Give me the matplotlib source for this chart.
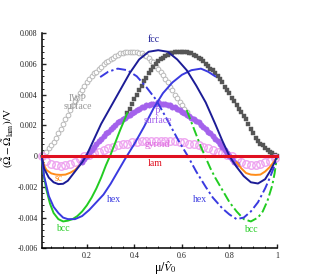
import matplotlib
matplotlib.use('Agg')
import matplotlib.pyplot as plt
from matplotlib.ticker import MultipleLocator, FixedLocator, FixedFormatter

plt.rcParams['font.family'] = ['Liberation Serif', 'DejaVu Serif']
plt.rcParams['mathtext.fontset'] = 'stix'
plt.rcParams['axes.unicode_minus'] = False

# ---------------- data ----------------
lam_x = [0.01, 1.0]
lam_y = [0.0, 0.0]

fcc_x = [0.01, 0.02, 0.04, 0.06, 0.08, 0.10, 0.12, 0.14, 0.16, 0.18, 0.20, 0.23, 0.26, 0.30,
         0.34, 0.38, 0.42, 0.46, 0.50, 0.54, 0.58, 0.62, 0.66, 0.70, 0.74, 0.77, 0.80, 0.83,
         0.86, 0.89, 0.92, 0.95, 0.97, 0.99, 1.0]
fcc_y = [0.0, -0.0008, -0.0014, -0.0017, -0.00182, -0.0018, -0.0016, -0.0012, -0.0008, -0.0004,
         0.0001, 0.0011, 0.0021, 0.0032, 0.0043, 0.0054, 0.0063, 0.0068, 0.0069, 0.0068, 0.0063,
         0.0056, 0.0046, 0.0035, 0.0021, 0.0010, 0.0, -0.0007, -0.0013, -0.0017, -0.00178,
         -0.0015, -0.0010, -0.0004, 0.0]

bcc_x = [0.01, 0.02, 0.03, 0.045, 0.06, 0.08, 0.10, 0.12, 0.14, 0.16, 0.18, 0.20, 0.22, 0.24,
         0.26, 0.28, 0.30, 0.32, 0.34, 0.37]
bcc_y = [0.0, -0.0014, -0.0022, -0.0031, -0.0037, -0.0041, -0.00425, -0.0042, -0.0041, -0.0039,
         -0.0036, -0.0032, -0.0027, -0.0021, -0.0014, -0.0006, 0.0001, 0.0009, 0.0017, 0.0028]

bcc_inv_x = [0.62, 0.64, 0.66, 0.68, 0.70, 0.72, 0.74, 0.77, 0.80, 0.83, 0.86, 0.89, 0.92, 0.94,
             0.96, 0.98, 0.99, 1.0]
bcc_inv_y = [0.0030, 0.0022, 0.0014, 0.0006, -0.0001, -0.0008, -0.0014, -0.0022, -0.0030, -0.0036,
             -0.0041, -0.00425, -0.0040, -0.0036, -0.0029, -0.0019, -0.0011, 0.0]

hex_x = [0.01, 0.02, 0.04, 0.06, 0.08, 0.10, 0.12, 0.15, 0.18, 0.21, 0.24, 0.27, 0.30, 0.33,
         0.36, 0.40, 0.44, 0.48, 0.52, 0.56, 0.60, 0.64, 0.68, 0.71, 0.74]
hex_y = [0.0, -0.0013, -0.0026, -0.0033, -0.0037, -0.0040, -0.0041, -0.0041, -0.0039, -0.0035,
         -0.0030, -0.0025, -0.0018, -0.0010, -0.0002, 0.0008, 0.0019, 0.0031, 0.0041, 0.0048,
         0.0053, 0.0056, 0.0057, 0.0055, 0.0052]

hex_inv_x = [0.256, 0.29, 0.33, 0.37, 0.41, 0.45, 0.49, 0.53, 0.586, 0.625, 0.66, 0.70, 0.73,
             0.77, 0.80, 0.83, 0.86, 0.89, 0.92, 0.95, 0.97, 0.99, 1.0]
hex_inv_y = [0.00515, 0.0055, 0.0057, 0.0056, 0.0052, 0.0045, 0.0037, 0.0026, 0.0010, 0.0,
             -0.0010, -0.0020, -0.0027, -0.0034, -0.0038, -0.0041, -0.0040, -0.0036, -0.0030,
             -0.0021, -0.0014, -0.0006, 0.0]

sc_x = [0.01, 0.02, 0.03, 0.05, 0.07, 0.09, 0.11, 0.13, 0.15, 0.17]
sc_y = [0.0, -0.0006, -0.0009, -0.00112, -0.0012, -0.00122, -0.0012, -0.00108, -0.0009, -0.0006]
sc_inv_x = [0.83, 0.85, 0.87, 0.89, 0.91, 0.93, 0.95, 0.97, 0.99, 1.0]
sc_inv_y = [-0.0004, -0.0008, -0.0011, -0.0012, -0.00122, -0.0012, -0.0010, -0.0007, -0.0003, 0.0]

iwp_x = [round(0.01 + 0.01 * i, 2) for i in range(62)]
iwp_y = [0.0000, 0.0002, 0.0003, 0.0005, 0.0007, 0.0009, 0.0012, 0.0015, 0.0018, 0.0021,
         0.0024, 0.0027, 0.0030, 0.0033, 0.0036, 0.0038, 0.0041, 0.0043, 0.0046, 0.0048,
         0.0050, 0.0052, 0.0054, 0.0055, 0.0057, 0.0058, 0.0060, 0.0061, 0.0062, 0.0063,
         0.0064, 0.0065, 0.0066, 0.0067, 0.0067, 0.0068, 0.0068, 0.0068, 0.0068, 0.0068,
         0.0068, 0.0067, 0.0067, 0.0066, 0.0065, 0.0064, 0.0062, 0.0061, 0.0059, 0.0057,
         0.0055, 0.0053, 0.0050, 0.0048, 0.0045, 0.0043, 0.0040, 0.0038, 0.0035, 0.0033,
         0.0031, 0.0029]

sq_x = [round(0.37 + 0.01 * i, 2) for i in range(64)]
sq_y = [0.0028, 0.0031, 0.0034, 0.0037, 0.0040, 0.0043, 0.0046, 0.0049, 0.0051, 0.0054,
        0.0056, 0.0058, 0.0060, 0.0062, 0.0063, 0.0064, 0.0065, 0.0066, 0.0067, 0.0067,
        0.0068, 0.0068, 0.0068, 0.0068, 0.0068, 0.0068, 0.0067, 0.0067, 0.0066, 0.0065,
        0.0064, 0.0063, 0.0062, 0.0060, 0.0059, 0.0057, 0.0056, 0.0054, 0.0052, 0.0050,
        0.0048, 0.0045, 0.0043, 0.0041, 0.0038, 0.0036, 0.0033, 0.0031, 0.0029, 0.0026,
        0.0024, 0.0021, 0.0018, 0.0015, 0.0012, 0.0010, 0.0008, 0.0007, 0.0005, 0.0004,
        0.0003, 0.0002, 0.0001, 0.0000]

psurf_x = [round(0.18 + 0.01 * i, 2) for i in range(66)]
psurf_y = [-0.0004, -0.0002, 0.0000, 0.0002, 0.0004, 0.0006, 0.0008, 0.0010, 0.0011, 0.0013,
           0.0015, 0.0016, 0.0018, 0.0019, 0.0020, 0.0022, 0.0023, 0.0024, 0.0025, 0.0026,
           0.0027, 0.0028, 0.0029, 0.0030, 0.0031, 0.0032, 0.0032, 0.0033, 0.0033, 0.0034,
           0.0034, 0.0034, 0.0035, 0.0034, 0.0034, 0.0034, 0.0033, 0.0033, 0.0032, 0.0032,
           0.0031, 0.0030, 0.0029, 0.0028, 0.0027, 0.0026, 0.0025, 0.0024, 0.0023, 0.0022,
           0.0020, 0.0019, 0.0018, 0.0016, 0.0015, 0.0013, 0.0011, 0.0010, 0.0008, 0.0006,
           0.0004, 0.0002, 0.0000, -0.0002, -0.0004, -0.0005]

gyr_x = [round(0.01 + 0.02 * i, 2) for i in range(50)]
gyr_y = [0.0000, -0.0003, -0.0005, -0.0006, -0.00065, -0.0006, -0.0005, -0.0004, -0.0002, 0.0000,
         0.0001, 0.0002, 0.0003, 0.0004, 0.0005, 0.0006, 0.0007, 0.0008, 0.0008, 0.0009,
         0.0009, 0.0010, 0.0010, 0.0010, 0.0010, 0.0010, 0.0010, 0.0010, 0.0010, 0.0009,
         0.0009, 0.0008, 0.0008, 0.0007, 0.0006, 0.0005, 0.0004, 0.0003, 0.0002, 0.0001,
         0.0000, -0.0002, -0.0004, -0.0005, -0.0006, -0.0006, -0.0005, -0.0004, -0.0003, -0.0001]

x_ticks = [0.2, 0.4, 0.6, 0.8, 1.0]
x_tick_labels = ['0.2', '0.4', '0.6', '0.8', '1']
y_ticks = [-0.006, -0.004, -0.002, 0.0, 0.002, 0.004, 0.006, 0.008]
y_tick_labels = ['-0.006', '-0.004', '-0.002', '0', '0.002', '0.004', '0.006', '0.008']

# ---------------- figure ----------------
fig = plt.figure(figsize=(3.15, 2.8), dpi=100)
ax = fig.add_axes([0.1324, 0.1132, 0.7470, 0.7678])

C_LAM = '#e01020'
C_FCC = '#1c1c96'
C_HEX = '#3a3ae0'
C_BCC = '#22cc22'
C_SC = '#ff8c1a'
C_IWP = '#b8b8b8'
C_SQ = '#555555'
C_P = '#a462ec'
C_GYR = '#eea4f0'

dd = (5, 1.6, 1.2, 1.6)

ax.plot(iwp_x, iwp_y, 'o', ms=3.4, mfc='white', mec=C_IWP, mew=0.7, clip_on=False, zorder=2)
ax.plot(sq_x, sq_y, 's', ms=2.6, mfc=C_SQ, mec=C_SQ, mew=0.3, clip_on=False, zorder=2)
ax.plot(gyr_x, gyr_y, 'o', ms=5.4, mfc='none', mec=C_GYR, mew=1.0, clip_on=False, zorder=2)
ax.plot(psurf_x, psurf_y, 'o', ms=3.9, mfc=C_P, mec=C_P, mew=0.3, clip_on=False, zorder=3)

ax.plot(sc_x, sc_y, '-', color=C_SC, lw=1.4, clip_on=False, zorder=4)
ax.plot(sc_inv_x, sc_inv_y, '-', color=C_SC, lw=1.4, clip_on=False, zorder=4)
ax.plot(bcc_x, bcc_y, '-', color=C_BCC, lw=1.4, clip_on=False, zorder=4)
ax.plot(bcc_inv_x, bcc_inv_y, color=C_BCC, lw=1.4, dashes=dd, clip_on=False, zorder=4)
ax.plot(hex_x, hex_y, '-', color=C_HEX, lw=1.4, clip_on=False, zorder=4)
ax.plot(hex_inv_x, hex_inv_y, color=C_HEX, lw=1.4, dashes=dd, clip_on=False, zorder=4)
ax.plot(fcc_x, fcc_y, '-', color=C_FCC, lw=1.4, clip_on=False, zorder=4)
ax.plot(lam_x, lam_y, '-', color=C_LAM, lw=2.2, clip_on=False, zorder=5)

ax.set_xlim(0.01, 1.0)
ax.set_ylim(-0.006, 0.008)

for s in ['top', 'right']:
    ax.spines[s].set_visible(False)
for s in ['left', 'bottom']:
    ax.spines[s].set_linewidth(1.1)

ax.xaxis.set_major_locator(FixedLocator(x_ticks))
ax.xaxis.set_major_formatter(FixedFormatter(x_tick_labels))
ax.yaxis.set_major_locator(FixedLocator(y_ticks))
ax.yaxis.set_major_formatter(FixedFormatter(y_tick_labels))
ax.xaxis.set_minor_locator(MultipleLocator(0.05))
ax.yaxis.set_minor_locator(MultipleLocator(0.0004))
ax.tick_params(which='major', direction='in', length=3.2, width=1.0, labelsize=5.8, pad=3,
               colors='#222222')
ax.tick_params(which='minor', direction='in', length=1.6, width=0.7, colors='#222222')

# curve labels
tk = dict(ha='center', va='center', fontsize=7, zorder=6)
ax.text(0.48, 0.00757, 'fcc', color=C_FCC, **tk)
ax.text(0.162, 0.0035, 'IWP\nsurface', color='#999999', linespacing=0.85, **tk)
ax.text(0.497, 0.00258, 'P\nsurface', color=C_P, linespacing=0.85, **tk)
ax.text(0.495, 0.00073, 'gyroid', color='#dd66dd', **tk)
ax.text(0.488, -0.00046, 'lam', color=C_LAM, **tk)
ax.text(0.082, -0.00148, 'sc', color=C_SC, **tk)
ax.text(0.10, -0.0047, 'bcc', color=C_BCC, **tk)
ax.text(0.888, -0.00476, 'bcc', color=C_BCC, **tk)
ax.text(0.312, -0.00285, 'hex', color=C_HEX, **tk)
ax.text(0.677, -0.00285, 'hex', color=C_HEX, **tk)

ax.text(0.528, -0.0916, r'μ$/\hat{V}_0$', transform=ax.transAxes, ha='center', va='center',
        fontsize=8.5)
ax.text(-0.143, 0.511, r'$(\tilde{\Omega}-\tilde{\Omega}_{\mathrm{lam}})/\mathrm{V}$',
        transform=ax.transAxes, ha='center', va='center', rotation=90, fontsize=8)

fig.savefig('out.png', dpi=100)
